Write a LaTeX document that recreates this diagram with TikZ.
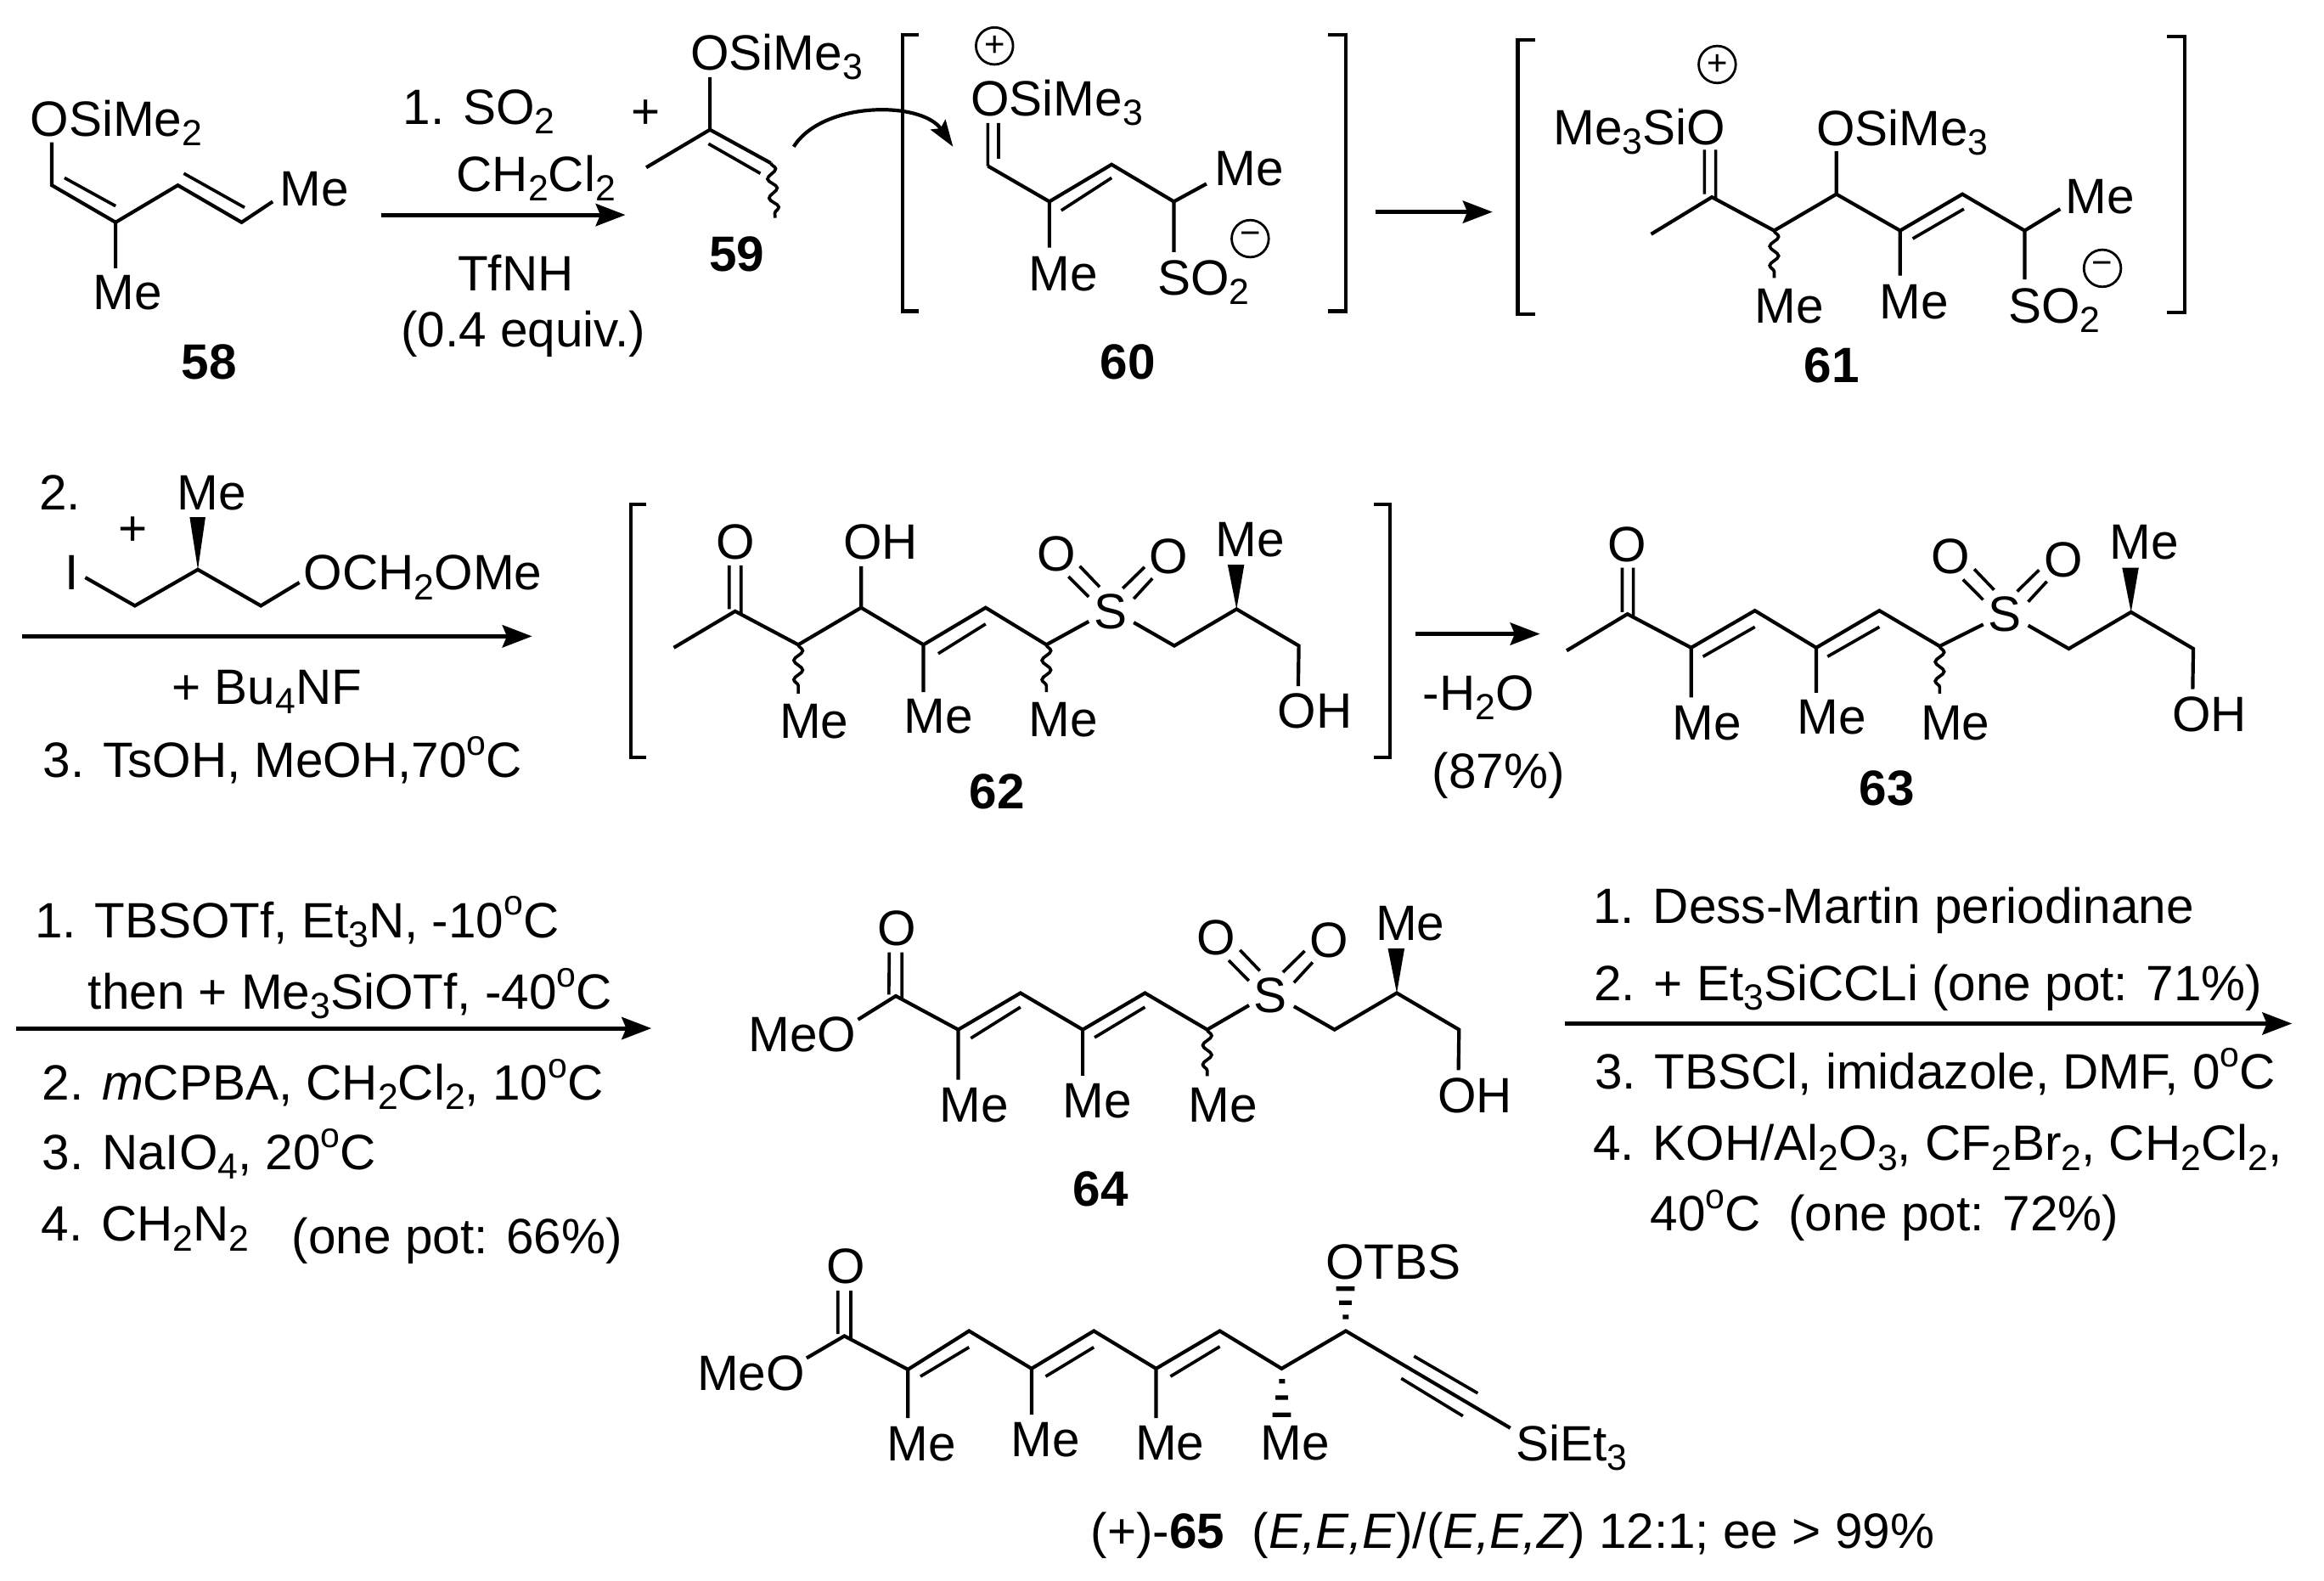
\documentclass[tikz,border=0pt]{standalone}
\usepackage{fontspec}
\setmainfont{Liberation Sans}
\usetikzlibrary{arrows.meta,decorations.pathmorphing}
\newcommand\sbs[1]{\raisebox{-6.5pt}{\fontsize{24.5}{24.5}\selectfont #1}}
\newcommand\dgr{\raisebox{15pt}{\fontsize{23.5}{23.5}\selectfont o}}
\newcommand\txtsize{\fontsize{33.5}{38}\selectfont}
\tikzset{
  bond/.style={line width=2.4pt,line join=miter,line cap=butt},
  inner/.style={line width=2.1pt},
  wavy/.style={line width=2.1pt,decorate,decoration={snake,segment length=13pt,amplitude=3pt}},
  wedge/.style={fill=black,draw=none},
  rxn/.style={line width=2.8pt,-{Stealth[length=20pt,width=15pt,inset=3pt]}},
  curved/.style={line width=2.4pt,-{Stealth[length=18pt,width=12pt,inset=3pt]}},
  brk/.style={line width=2.4pt,line join=miter},
  lbl/.style={anchor=base west,inner sep=0pt,outer sep=0pt,font=\txtsize},
  ctr/.style={anchor=base,inner sep=0pt,outer sep=0pt,font=\txtsize},
  num/.style={anchor=base,inner sep=0pt,outer sep=0pt,font=\txtsize\bfseries},
  chg/.style={circle,draw,line width=1.6pt,minimum size=25pt,inner sep=0pt,font=\fontsize{24}{24}\selectfont},
  sulfchain/.pic={
    \path (-13.9,7.3) coordinate (-e) (0,0) coordinate (-s) (16.4,8) coordinate (-a) (43.8,23.7) coordinate (-b)
      (85.8,-1) coordinate (-c) (127.8,23.7) coordinate (-d) (127.4,51) coordinate (-f)
      (79.8,-31) coordinate (-wl) (91,-31) coordinate (-wr);
    \node[lbl] (-S) at (-10.5,12) {S};
    \node[lbl] (-O1) at (-49,-27) {O};
    \node[lbl] (-O2) at (27,-25) {O};
    \node[lbl] (-Me) at (71.5,-36.5) {Me};
    \node[lbl] (-OH) at (113.5,79.5) {OH};
    \draw[bond] (-a)--(-b)--(-c)--(-d)--(-f);
    \fill[wedge] (-c)--(-wl)--(-wr)--cycle;
    \draw[inner] (-6.6,-16)--(-20,-30) (-14,-9.3)--(-27.6,-23) (16.4,-8)--(29,-21.7) (9,-15)--(23.7,-29.4);
  }
}
\begin{document}
\begin{tikzpicture}[x=1pt,y=-1pt]
\useasboundingbox (0,0) rectangle (1568,1066.17);
\fill[white] (0,0) rectangle (1568,1066.17);

% ---------- 58
\path (35,96) coordinate (a0) (35,125) coordinate (a1) (78,150) coordinate (a2) (120,125) coordinate (a3)
  (163,150) coordinate (a4) (184,136) coordinate (a5) (78,181) coordinate (a6);
\draw[bond] (a0)--(a1)--(a2)--(a3)--(a4)--(a5) (a2)--(a6);
\draw[inner] (43.5,120)--(78,139) (124,117)--(165,140);
\node[lbl] (t58a) at (20.5,92) {OSiMe\sbs{2}};
\node[lbl] (t58b) at (189,139) {Me};
\node[lbl] (t58c) at (63,209) {Me};
\node[num] (n58) at (141,256) {58};

% conditions 1
\node[lbl] (c1a) at (272,84) {1. SO\sbs{2}};
\node[lbl] (c1p) at (426,87) {+};
\node[lbl] (c1b) at (308,129) {CH\sbs{2}Cl\sbs{2}};
\coordinate (r1s) at (257,145); \coordinate (r1e) at (422,145);
\draw[rxn] (r1s)--(r1e);
\node[ctr] (c1c) at (348,196) {TfNH};
\node[ctr] (c1d) at (353,234) {(0.4 equiv.)};

% ---------- 59
\path (479,52) coordinate (b0) (479,87.5) coordinate (b1) (436,113) coordinate (b2) (520,110) coordinate (b3) (523,147) coordinate (b4);
\draw[bond] (b0)--(b1)--(b2) (b1)--(b3);
\draw[inner] (478,97)--(513,117);
\draw[wavy] (b3)--(b4);
\node[lbl] (t59) at (466,47) {OSiMe\sbs{3}};
\node[num] (n59) at (497,183) {59};

% curved arrow
\path (535.5,99) coordinate (ca) (555,68) coordinate (cb) (622,68) coordinate (cc) (643,99) coordinate (cd);
\draw[curved] (ca) .. controls (cb) and (cc) .. (cd);

% ---------- 60
\draw[brk] (620,23.3)--(609,23.3)--(609,210)--(620,210);
\draw[brk] (896,23.3)--(908,23.3)--(908,210)--(896,210);
\path (666.5,112) coordinate (d1) (708,136) coordinate (d2) (750,111) coordinate (d3) (792,136) coordinate (d4)
  (814,124) coordinate (d5) (708,167) coordinate (d6) (792,170) coordinate (d7);
\draw[bond] (d1)--(d2)--(d3)--(d4)--(d5) (d2)--(d6) (d4)--(d7);
\draw[inner] (666.5,112)--(666.5,83) (673.7,107)--(673.7,83) (716,142)--(750,120);
\node[chg] (p60) at (671,31) {+};
\node[lbl] (t60a) at (655,78) {OSiMe\sbs{3}};
\node[lbl] (t60b) at (819.5,125) {Me};
\node[lbl] (t60c) at (694,196) {Me};
\node[lbl] (t60d) at (781,199) {SO\sbs{2}};
\node[chg] (m60) at (843.5,161) {−};
\node[num] (n60) at (761,256) {60};

\coordinate (r2s) at (928,143); \coordinate (r2e) at (1007,143);
\draw[rxn] (r2s)--(r2e);

% ---------- 61
\draw[brk] (1036,26.7)--(1024,26.7)--(1024,212)--(1036,212);
\draw[brk] (1462,24.5)--(1474,24.5)--(1474,211)--(1462,211);
\path (1114,158) coordinate (e0) (1155,133) coordinate (e1) (1197,155.6) coordinate (e2) (1239,131) coordinate (e3)
  (1282,155.6) coordinate (e4) (1324,131) coordinate (e5) (1366,155.6) coordinate (e6) (1390,141) coordinate (e7)
  (1239,102) coordinate (e8) (1282,186) coordinate (e9) (1366,188.5) coordinate (e10) (1197,187.5) coordinate (e11);
\draw[bond] (e0)--(e1)--(e2)--(e3)--(e4)--(e5)--(e6)--(e7) (e3)--(e8) (e4)--(e9) (e6)--(e10);
\draw[inner] (1150,131)--(1150,101) (1157.6,134)--(1157.6,101) (1290.5,161)--(1325,141);
\draw[wavy] (e2)--(e11);
\node[chg] (p61) at (1158.6,43.5) {+};
\node[lbl] (t61a) at (1048,97.5) {Me\sbs{3}SiO};
\node[lbl] (t61b) at (1225.5,98) {OSiMe\sbs{3}};
\node[lbl] (t61c) at (1393.5,144) {Me};
\node[lbl] (t61d) at (1184,218) {Me};
\node[lbl] (t61e) at (1268,215) {Me};
\node[lbl] (t61f) at (1355,218) {SO\sbs{2}};
\node[chg] (m61) at (1418.5,181) {−};
\node[num] (n61) at (1236,258) {61};

% reagents 2
\node[lbl] (c2a) at (26.5,344) {2.};
\node[lbl] (c2p) at (80,368) {+};
\node[lbl] (c2m) at (119.5,344) {Me};
\node[lbl] (c2i) at (44,398) {I};
\path (57.5,389.6) coordinate (f0) (91,408.7) coordinate (f1) (133.5,384.3) coordinate (f2) (176,408.7) coordinate (f3)
  (202,393) coordinate (f4) (128,349) coordinate (f5) (138.6,349) coordinate (f6);
\draw[bond] (f0)--(f1)--(f2)--(f3)--(f4);
\fill[wedge] (f2)--(f5)--(f6)--cycle;
\node[lbl] (c2o) at (205,398) {OCH\sbs{2}OMe};
\coordinate (r3s) at (14.8,429.3); \coordinate (r3e) at (359,429.3);
\draw[rxn] (r3s)--(r3e);
\node[lbl] (c2b) at (116,475) {+ Bu\sbs{4}NF};
\node[lbl] (c2c) at (29,524.6) {3. TsOH, MeOH,70\dgr C};

% ---------- 62
\draw[brk] (436,340.5)--(425.5,340.5)--(425.5,511)--(436,511);
\draw[brk] (927,340.5)--(938,340.5)--(938,511)--(927,511);
\path (454.6,437) coordinate (g0) (496,412.4) coordinate (g1) (538.6,435) coordinate (g2) (581,410) coordinate (g3)
  (623,435) coordinate (g4) (665,410) coordinate (g5) (706,435) coordinate (g6) (581,382) coordinate (g7)
  (623,467) coordinate (g8) (538.6,468) coordinate (g9) (706,467) coordinate (g10);
\pic (gs) at (748.5,412) {sulfchain};
\draw[bond] (g0)--(g1)--(g2)--(g3)--(g4)--(g5)--(g6)--(gs-e) (g3)--(g7) (g4)--(g8);
\draw[inner] (492,381.5)--(492,411) (500,381.5)--(500,414) (633,441)--(665,421);
\draw[wavy] (g2)--(g9);
\draw[wavy] (g6)--(g10);
\node[lbl] (t62a) at (483.5,377) {O};
\node[lbl] (t62b) at (569,377) {OH};
\node[lbl] (t62c) at (526,498) {Me};
\node[lbl] (t62d) at (610,494.5) {Me};
\node[lbl] (t62e) at (694,497) {Me};
\node[num] (n62) at (672.6,545.5) {62};

\coordinate (r4s) at (955,427.7); \coordinate (r4e) at (1039,427.7);
\draw[rxn] (r4s)--(r4e);
\node[lbl] (c4a) at (960,479) {-H\sbs{2}O};
\node[ctr] (c4b) at (1011,532) {(87\%)};

% ---------- 63
\path (1057,439) coordinate (h0) (1098,414.3) coordinate (h1) (1141,437) coordinate (h2) (1184,412) coordinate (h3)
  (1225.4,437) coordinate (h4) (1268,412) coordinate (h5) (1308.7,436) coordinate (h6)
  (1141,470.6) coordinate (h7) (1225.4,467.4) coordinate (h8) (1308.7,468) coordinate (h9);
\pic (hs) at (1352,414) {sulfchain};
\draw[bond] (h0)--(h1)--(h2)--(h3)--(h4)--(h5)--(h6)--(hs-e) (h2)--(h7) (h4)--(h8);
\draw[inner] (1094.5,383)--(1094.5,413) (1102,383)--(1102,416) (1149,443)--(1184,423) (1233,443)--(1268,423);
\draw[wavy] (h6)--(h9);
\node[lbl] (t63a) at (1085,379) {O};
\node[lbl] (t63b) at (1128.5,499) {Me};
\node[lbl] (t63c) at (1212.5,495.5) {Me};
\node[lbl] (t63d) at (1296,499) {Me};
\node[num] (n63) at (1273,543.6) {63};

% reagents 3
\node[lbl] (c3a) at (23.5,632.5) {1. TBSOTf, Et\sbs{3}N, -10\dgr C};
\node[lbl] (c3b) at (59.5,680.8) {then + Me\sbs{3}SiOTf, -40\dgr C};
\coordinate (r5s) at (11,693.8); \coordinate (r5e) at (439.5,693.8);
\draw[rxn] (r5s)--(r5e);
\node[lbl] (c3c) at (28.5,742) {2. \textit{m}CPBA, CH\sbs{2}Cl\sbs{2}, 10\dgr C};
\node[lbl] (c3d) at (28.5,789) {3. NaIO\sbs{4}, 20\dgr C};
\node[lbl] (c3e) at (28,837.4) {4. CH\sbs{2}N\sbs{2}};
\node[lbl] (c3f) at (197,846) {(one pot: 66\%)};

% ---------- 64
\path (578.9,687.9) coordinate (i0) (604.4,672) coordinate (i1) (646.5,694.7) coordinate (i2) (688.5,670) coordinate (i3)
  (730.5,694.7) coordinate (i4) (772.5,670) coordinate (i5) (814.5,694.7) coordinate (i6)
  (646.5,728.5) coordinate (i7) (730.5,725.7) coordinate (i8) (814.5,726) coordinate (i9);
\pic (is) at (856.6,671) {sulfchain};
\draw[bond] (i0)--(i1)--(i2)--(i3)--(i4)--(i5)--(i6)--(is-e) (i2)--(i7) (i4)--(i8);
\draw[inner] (600,642.6)--(599.7,671) (608.5,642.6)--(608.5,674) (655,700.5)--(688.5,679.5) (738.5,700)--(772.5,679.5);
\draw[wavy] (i6)--(i9);
\node[lbl] (t64a) at (505,709.4) {MeO};
\node[lbl] (t64b) at (592,638) {O};
\node[lbl] (t64c) at (634,757) {Me};
\node[lbl] (t64d) at (717,754.3) {Me};
\node[lbl] (t64e) at (802,757) {Me};
\node[num] (n64) at (742.6,813.5) {64};

% reagents 4
\node[lbl] (c5a) at (1075,623) {1. Dess-Martin periodinane};
\node[lbl] (c5b) at (1075.5,675) {2. + Et\sbs{3}SiCCLi (one pot: 71\%)};
\coordinate (r6s) at (1055.7,690.6); \coordinate (r6e) at (1546.4,690.6);
\draw[rxn] (r6s)--(r6e);
\node[lbl] (c5c) at (1076,734.6) {3. TBSCl, imidazole, DMF, 0\dgr C};
\node[lbl] (c5d) at (1075,783) {4. KOH/Al\sbs{2}O\sbs{3}, CF\sbs{2}Br\sbs{2}, CH\sbs{2}Cl\sbs{2},};
\node[lbl] (c5e) at (1113.5,830.3) {40\dgr C\ \ (one pot: 72\%)};

% ---------- 65
\path (544.2,916.3) coordinate (j0) (569.7,901.4) coordinate (j1) (612.6,924) coordinate (j2) (653.8,898) coordinate (j3)
  (696,923.4) coordinate (j4) (738,898) coordinate (j5) (780,923.4) coordinate (j6) (823,898) coordinate (j7)
  (864.7,923.4) coordinate (j8) (908,898) coordinate (j9) (1019,963.5) coordinate (j10)
  (612.6,956.8) coordinate (j11) (696,954.5) coordinate (j12) (780,956.8) coordinate (j13);
\draw[bond] (j0)--(j1)--(j2)--(j3)--(j4)--(j5)--(j6)--(j7)--(j8)--(j9)--(j10) (j2)--(j11) (j4)--(j12) (j6)--(j13);
\draw[inner] (565.3,870.8)--(565.3,900) (574,870.8)--(574,903) (621,928.7)--(653.8,909) (705.5,928.7)--(738,909)
  (789.7,928.7)--(823,908.5) (954,915)--(997,940) (945.4,930)--(987,955.4);
\fill (906,887) rectangle (910,890) (903.5,877.5) rectangle (912,880.5) (901.5,868) rectangle (914,871);
\fill (863,930.5) rectangle (867,933.5) (860.5,941.5) rectangle (869,944.5) (858.5,953) rectangle (871,956);
\node[lbl] (t65a) at (470.5,938) {MeO};
\node[lbl] (t65b) at (557.5,866) {O};
\node[lbl] (t65c) at (598.5,985.4) {Me};
\node[lbl] (t65d) at (682,982.6) {Me};
\node[lbl] (t65e) at (766,985) {Me};
\node[lbl] (t65f) at (850.5,985) {Me};
\node[lbl] (t65g) at (1023,985.4) {SiEt\sbs{3}};
\node[lbl] (t65h) at (894.5,863) {OTBS};
\node[lbl] (n65) at (736,1044.6) {(+)-\textbf{65}\ \ (\textit{E,E,E})/(\textit{E,E,Z}) 12:1; ee > 99\%};
\end{tikzpicture}
\end{document}
